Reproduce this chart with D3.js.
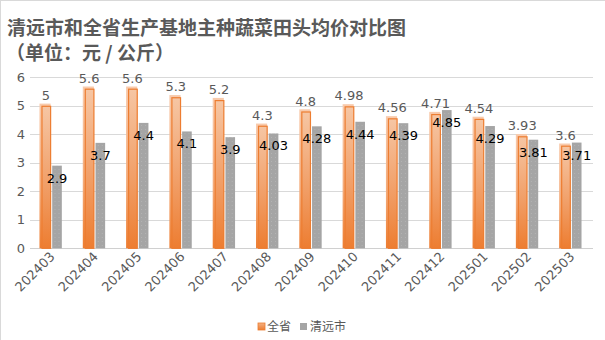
<!DOCTYPE html>
<html><head><meta charset="utf-8">
<script src="https://cdn.jsdelivr.net/npm/d3@7"></script>
<style>
html,body{margin:0;padding:0;background:#fff;}
svg{display:block;}
</style></head>
<body>
<svg id="chart" width="605" height="340"></svg>
<script>
const categories = ["202403","202404","202405","202406","202407","202408","202409","202410","202411","202412","202501","202502","202503"];
const seriesNames = ["全省","清远市"];
const provinceValues = [5, 5.6, 5.6, 5.3, 5.2, 4.3, 4.8, 4.98, 4.56, 4.71, 4.54, 3.93, 3.6];
const qingyuanValues = [2.9, 3.7, 4.4, 4.1, 3.9, 4.03, 4.28, 4.44, 4.39, 4.85, 4.29, 3.81, 3.71];
const yTicks = [0, 1, 2, 3, 4, 5, 6];
const titleLines = ["清远市和全省生产基地主种蔬菜田头均价对比图", "（单位：元 / 公斤）"];

const numFont = "'DejaVu Sans', 'Noto Sans CJK SC', sans-serif";
const cjkFont = "'Noto Sans CJK SC', 'DejaVu Sans', sans-serif";
const svg = d3.select("#chart");
const W = 605, H = 340;
const plot = {left: 30, right: 593, top: 77.3, bottom: 248.3};

// background + border
svg.append("rect").attr("x",0).attr("y",0).attr("width",W).attr("height",H).attr("fill","#fff");
svg.append("rect").attr("x",0.5).attr("y",0.5).attr("width",W+10).attr("height",H+10)
  .attr("fill","none").attr("stroke","#d9d9d9");

const defs = svg.append("defs");
const g1 = defs.append("linearGradient").attr("id","orangeGrad").attr("x1",0).attr("y1",0).attr("x2",0).attr("y2",1);
g1.append("stop").attr("offset","0%").attr("stop-color","#f6c6a4");
g1.append("stop").attr("offset","55%").attr("stop-color","#f19f68");
g1.append("stop").attr("offset","100%").attr("stop-color","#ed7d31");
const g2 = defs.append("linearGradient").attr("id","shadowGrad").attr("x1",0).attr("y1",0).attr("x2",0).attr("y2",1);
g2.append("stop").attr("offset","0%").attr("stop-color","#f8cbad");
g2.append("stop").attr("offset","60%").attr("stop-color","#f3a977");
g2.append("stop").attr("offset","100%").attr("stop-color","#ed7d31");
const pat = defs.append("pattern").attr("id","grayDots").attr("patternUnits","userSpaceOnUse")
  .attr("width",4).attr("height",4);
pat.append("rect").attr("width",4).attr("height",4).attr("fill","#a5a5a5");
pat.append("rect").attr("x",1).attr("y",1).attr("width",1).attr("height",1).attr("fill","#b3b3b3");
const lg = defs.append("linearGradient").attr("id","legGrad").attr("x1",0).attr("y1",0).attr("x2",0).attr("y2",1);
lg.append("stop").attr("offset","0%").attr("stop-color","#f4b183");
lg.append("stop").attr("offset","100%").attr("stop-color","#ed7d31");

// title
svg.append("text").attr("x",7).attr("y",35).attr("font-family",cjkFont).attr("font-size",19)
  .attr("font-weight","bold").attr("fill","#595959").text(titleLines[0]);
svg.append("text").attr("x",6).attr("y",60).attr("font-family",cjkFont).attr("font-size",19)
  .attr("font-weight","bold").attr("fill","#595959").text(titleLines[1]);

// scales
const y = d3.scaleLinear().domain([0, 6]).range([plot.bottom, plot.top]);
const x0 = d3.scaleBand().domain(categories).range([plot.left, plot.right]).paddingInner(0.53).paddingOuter(0.265);
const x1 = d3.scaleBand().domain(seriesNames).range([0, x0.bandwidth()]).paddingInner(0.1);

// gridlines
svg.append("g").selectAll("line").data(yTicks).join("line")
  .attr("x1",plot.left).attr("x2",plot.right)
  .attr("y1",d=>Math.round(y(d))+0.5).attr("y2",d=>Math.round(y(d))+0.5)
  .attr("stroke",d=>d===0?"#d0d0d0":"#d9d9d9").attr("stroke-width",1);

// y axis labels
const yAxis = d3.axisLeft(y).tickValues(yTicks).tickSize(0).tickPadding(0).tickFormat(d3.format("d"));
const ya = svg.append("g").attr("transform",`translate(${plot.left-5},0)`).call(yAxis);
ya.select(".domain").remove();
ya.selectAll("text").attr("font-family",numFont).attr("font-size",13).attr("fill","#595959");

// x axis labels
const xa = svg.append("g").attr("transform",`translate(0,${plot.bottom})`)
  .call(d3.axisBottom(x0).tickSize(0).tickFormat(d=>d));
xa.select(".domain").remove();
xa.selectAll("text").attr("font-family",numFont).attr("font-size",13).attr("fill","#595959")
  .attr("text-anchor","end").attr("dy",0).attr("y",0)
  .attr("transform","translate(4,9) rotate(-45)");

// orange bars
const groups = svg.append("g").selectAll("g").data(categories).join("g")
  .attr("transform",d=>`translate(${x0(d)},0)`);
const bw = x1.bandwidth();
groups.append("rect").attr("class","shadow")
  .attr("x",x1("全省")-2).attr("y",(d,i)=>y(provinceValues[i])-2.2)
  .attr("width",bw+1.5).attr("height",(d,i)=>y(0)-y(provinceValues[i])+2.2)
  .attr("fill","url(#shadowGrad)");
groups.append("rect").attr("class","prov")
  .attr("x",x1("全省")+0.5).attr("y",(d,i)=>y(provinceValues[i])+0.5)
  .attr("width",bw-1).attr("height",(d,i)=>y(0)-y(provinceValues[i])-0.5)
  .attr("fill","url(#orangeGrad)").attr("stroke","#ed7d31").attr("stroke-width",1.2);
groups.append("rect").attr("class","qy")
  .attr("x",x1("清远市")).attr("y",(d,i)=>y(qingyuanValues[i]))
  .attr("width",bw).attr("height",(d,i)=>y(0)-y(qingyuanValues[i]))
  .attr("fill","url(#grayDots)");

// labels
groups.append("text").attr("x",x1("全省")+bw/2-0.5).attr("y",(d,i)=>y(provinceValues[i])-6)
  .attr("text-anchor","middle").attr("font-family",numFont).attr("font-size",13).attr("fill","#595959")
  .text((d,i)=>provinceValues[i]);
groups.append("text").attr("x",x1("清远市")+bw/2).attr("y",(d,i)=>y(qingyuanValues[i])+17)
  .attr("text-anchor","middle").attr("font-family",numFont).attr("font-size",13).attr("fill","#000")
  .text((d,i)=>qingyuanValues[i]);

// legend
const leg = svg.append("g");
leg.append("rect").attr("x",258).attr("y",323).attr("width",7).attr("height",7)
  .attr("fill","url(#legGrad)").attr("stroke","#ed7d31").attr("stroke-width",0.8);
leg.append("text").attr("x",267).attr("y",331).attr("font-family",cjkFont).attr("font-size",12)
  .attr("fill","#595959").text(seriesNames[0]);
leg.append("rect").attr("x",300).attr("y",323).attr("width",7).attr("height",7).attr("fill","#a5a5a5");
leg.append("text").attr("x",310).attr("y",331).attr("font-family",cjkFont).attr("font-size",12)
  .attr("fill","#595959").text(seriesNames[1]);
</script>
</body></html>
